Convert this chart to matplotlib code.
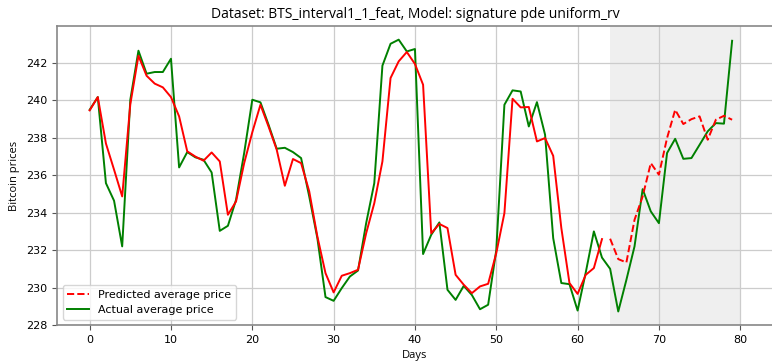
import matplotlib
matplotlib.use("Agg")
import matplotlib.pyplot as plt
import numpy as np

# Days
days_hist = list(range(0, 64))
days_fore = list(range(64, 80))
days_all = list(range(0, 80))

predicted_hist = [
    239.47, 240.18, 237.7, 236.3, 234.87, 239.8, 242.39, 241.32, 240.9, 240.7,
    240.18, 239.15, 237.28, 237.0, 236.78, 237.22, 236.74, 233.89, 234.6, 236.65,
    238.3, 239.77, 238.6, 237.37, 235.44, 236.87, 236.65, 235.14, 232.73, 230.77,
    229.74, 230.63, 230.77, 230.95, 232.9, 234.51, 236.74, 241.2, 242.09, 242.59,
    241.95, 240.84, 232.9, 233.4, 233.18, 230.68, 230.15, 229.7, 230.06, 230.2,
    231.84, 233.98, 240.09, 239.63, 239.65, 237.81, 237.99, 237.04, 233.18, 230.24,
    229.66, 230.68, 231.04, 232.59,
]

predicted_fore = [
    232.61, 231.52, 231.34, 233.62, 234.87, 236.65, 236.03, 237.99, 239.5, 238.74,
    239.0, 239.15, 237.9, 238.97, 239.18, 238.97,
]

actual = [
    239.5, 240.18, 235.58, 234.64, 232.2, 240.04, 242.66, 241.43, 241.52, 241.52,
    242.23, 236.42, 237.24, 236.96, 236.83, 236.15, 233.03, 233.3, 234.69, 237.19,
    240.04, 239.9, 238.7, 237.42, 237.47, 237.24, 236.92, 234.87, 232.64, 229.49,
    229.29, 229.97, 230.59, 230.91, 233.44, 235.58, 241.86, 243.03, 243.25, 242.62,
    242.75, 231.79, 232.82, 233.48, 229.88, 229.34, 230.09, 229.6, 228.84, 229.08,
    232.0, 239.77, 240.54, 240.48, 238.61, 239.91, 238.17, 232.64, 230.24, 230.18,
    228.77, 230.8, 233.0, 231.6, 231.0, 228.72, 230.41, 232.2, 235.26, 234.07,
    233.44, 237.19, 237.95, 236.88, 236.92, 237.63, 238.35, 238.79, 238.76, 243.19,
]

title = "Dataset: BTS_interval1_1_feat, Model: signature pde uniform_rv"

fig = plt.figure(figsize=(7.72, 3.62), dpi=100)
ax = fig.add_axes([0.074, 0.102, 0.927, 0.826])

ax.axvspan(64, 80, facecolor="#efefef", edgecolor="none", zorder=0)
ax.plot(days_hist, predicted_hist, color="red", linewidth=1.4, zorder=3)
ax.plot(days_fore, predicted_fore, color="red", linestyle="--", linewidth=1.4,
        label="Predicted average price", zorder=3)
ax.plot(days_all, actual, color="green", linewidth=1.4,
        label="Actual average price", zorder=2)

ax.set_xticks(range(0, 81, 10))
ax.set_yticks(range(228, 243, 2))
ax.margins(x=0.05, y=0.05)
ax.grid(True, color="#cccccc", linewidth=0.9, zorder=1)
ax.set_axisbelow(True)
for s in ax.spines.values():
    s.set_color("#888888")
    s.set_linewidth(1.2)
ax.tick_params(labelsize=8, color="#555555", length=3.5)
ax.set_xlabel("Days", fontsize=8, family=["Open Sans", "DejaVu Sans"])
ax.set_ylabel("Bitcoin prices", fontsize=8, family=["Open Sans", "DejaVu Sans"])
ax.set_title(title, fontsize=10, family=["Open Sans", "DejaVu Sans"])
ax.legend(loc="lower left", fontsize=8)

fig.savefig("out.png", dpi=100)
